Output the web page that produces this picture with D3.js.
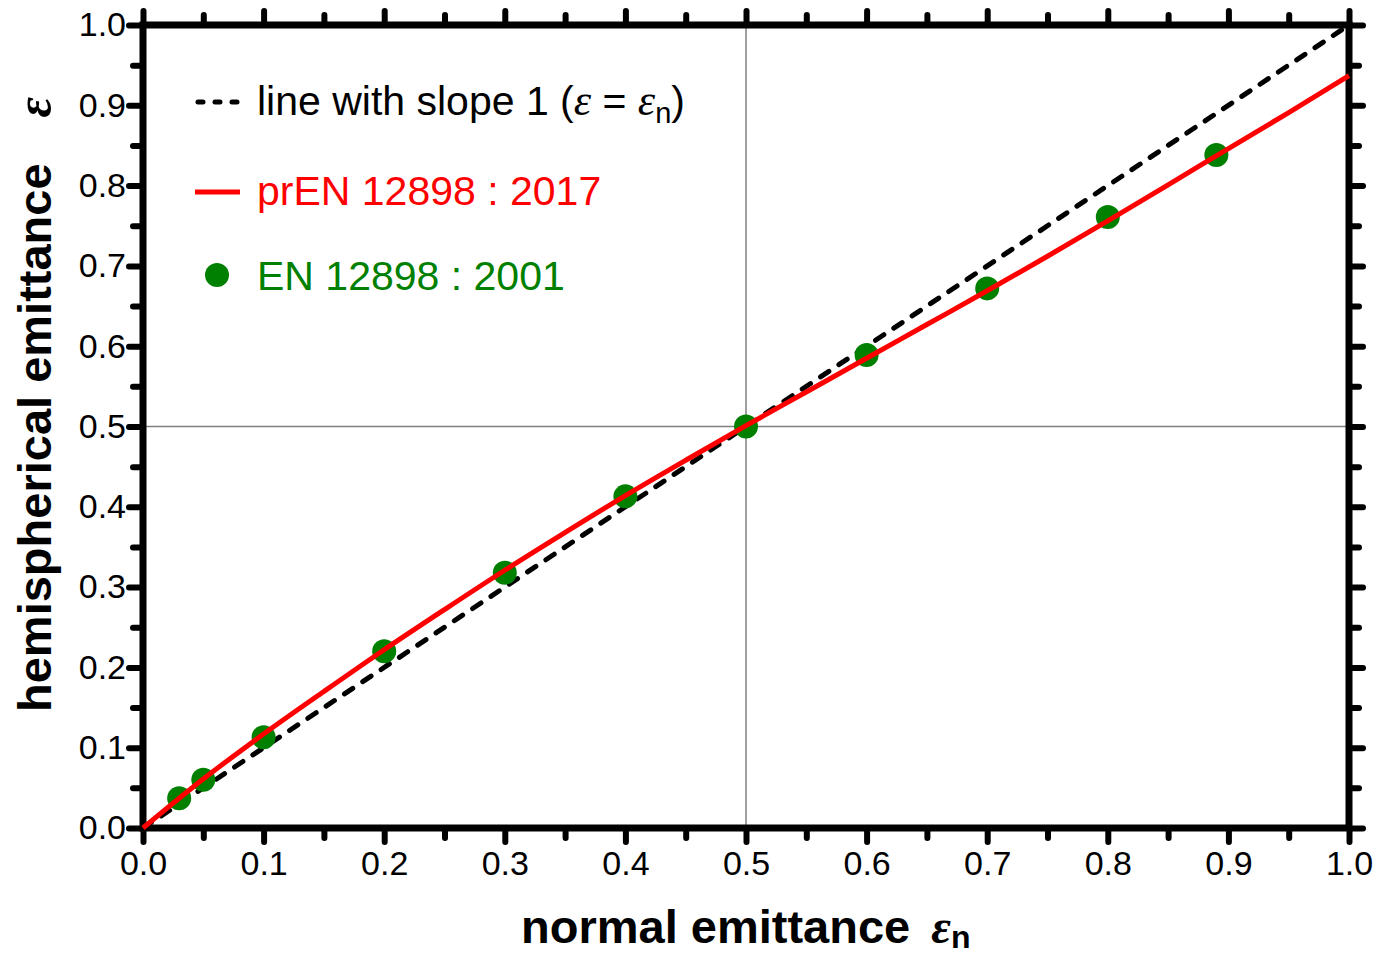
<!DOCTYPE html>
<html>
<head>
<meta charset="utf-8">
<script src="https://cdn.jsdelivr.net/npm/d3@7"></script>
<style>
  body { margin: 0; background: #fff; }
  svg { display: block; }
  .tick text { font-family: "Liberation Sans", Arial, sans-serif; }
</style>
</head>
<body>
<div id="chart"></div>
<script>
// EN 12898 : 2001 table points (normal emittance -> hemispherical emittance)
const en2001X = [0.03, 0.05, 0.1, 0.2, 0.3, 0.4, 0.5, 0.6, 0.7, 0.8, 0.89];
const en2001Y = [0.037, 0.060, 0.113, 0.220, 0.318, 0.413, 0.500, 0.589, 0.672, 0.761, 0.838];

// prEN 12898 : 2017 curve
const pren2017X = [0, 0.05, 0.1, 0.15, 0.2, 0.25, 0.3, 0.35, 0.4, 0.45, 0.5,
                   0.55, 0.6, 0.65, 0.7, 0.75, 0.8, 0.85, 0.9, 0.95, 1.0];
const pren2017Y = [0, 0.061, 0.117, 0.170, 0.222, 0.272, 0.321, 0.368, 0.414, 0.458, 0.501,
                   0.543, 0.585, 0.627, 0.669, 0.712, 0.756, 0.801, 0.846, 0.891, 0.937];

// slope 1 reference line
const slopeX = [0, 1];
const slopeY = [0, 1];

const majorTicks = [0, 0.1, 0.2, 0.3, 0.4, 0.5, 0.6, 0.7, 0.8, 0.9, 1.0];
const minorTicks = [0.05, 0.15, 0.25, 0.35, 0.45, 0.55, 0.65, 0.75, 0.85, 0.95];
const gridAt = [0.5];

const W = 1379, H = 956;
const margin = { left: 143, right: 30, top: 25, bottom: 128 };

const svg = d3.select("#chart").append("svg")
  .attr("width", W)
  .attr("height", H);

const x = d3.scaleLinear().domain([0, 1]).range([margin.left, W - margin.right]);
const y = d3.scaleLinear().domain([0, 1]).range([H - margin.bottom, margin.top]);

const fmt = d3.format(".1f");
const sans = "'Liberation Sans', Arial, Helvetica, sans-serif";
const serif = "'Liberation Serif', 'Times New Roman', serif";

// grid lines at 0.5
svg.append("g").selectAll("line.gx")
  .data(gridAt).join("line")
  .attr("x1", d => x(d)).attr("x2", d => x(d))
  .attr("y1", y(0)).attr("y2", y(1))
  .attr("stroke", "#7f7f7f").attr("stroke-width", 1.5);
svg.append("g").selectAll("line.gy")
  .data(gridAt).join("line")
  .attr("x1", x(0)).attr("x2", x(1))
  .attr("y1", d => y(d)).attr("y2", d => y(d))
  .attr("stroke", "#7f7f7f").attr("stroke-width", 1.5);

// axes: major + minor on all four sides
function styleAxis(g) {
  g.select(".domain").remove();
  g.selectAll(".tick line")
    .attr("stroke", "#000")
    .attr("stroke-width", 6)
    .attr("stroke-linecap", "round");
  g.selectAll(".tick text")
    .attr("font-size", 34)
    .attr("fill", "#000");
}

const sides = [
  { fn: d3.axisBottom, t: `translate(0,${y(0)})`, sc: x, lab: true },
  { fn: d3.axisTop, t: `translate(0,${y(1)})`, sc: x, lab: false },
  { fn: d3.axisLeft, t: `translate(${x(0)},0)`, sc: y, lab: true },
  { fn: d3.axisRight, t: `translate(${x(1)},0)`, sc: y, lab: false }
];

sides.forEach(s => {
  svg.append("g")
    .attr("transform", s.t)
    .call(s.fn(s.sc).tickValues(minorTicks).tickSize(10).tickFormat(""))
    .call(styleAxis);
  svg.append("g")
    .attr("transform", s.t)
    .call(s.fn(s.sc).tickValues(majorTicks).tickSize(14)
      .tickPadding(s.sc === x ? 9 : 3)
      .tickFormat(s.lab ? fmt : ""))
    .call(styleAxis);
});

// frame
svg.append("rect")
  .attr("x", x(0)).attr("y", y(1))
  .attr("width", x(1) - x(0)).attr("height", y(0) - y(1))
  .attr("fill", "none").attr("stroke", "#000").attr("stroke-width", 7);

// slope 1 dashed line
const line = d3.line().x(d => x(d[0])).y(d => y(d[1]));
svg.append("path")
  .datum(d3.zip(slopeX, slopeY))
  .attr("d", line)
  .attr("fill", "none")
  .attr("stroke", "#000")
  .attr("stroke-width", 5)
  .attr("stroke-linecap", "round")
  .attr("stroke-dasharray", "10,12");

// green points
svg.append("g").selectAll("circle")
  .data(d3.zip(en2001X, en2001Y)).join("circle")
  .attr("cx", d => x(d[0]))
  .attr("cy", d => y(d[1]))
  .attr("r", 12)
  .attr("fill", "#008000");

// red curve
svg.append("path")
  .datum(d3.zip(pren2017X, pren2017Y))
  .attr("d", line.curve(d3.curveMonotoneX))
  .attr("fill", "none")
  .attr("stroke", "#ff0000")
  .attr("stroke-width", 5);

// legend
const lg = svg.append("g");
lg.append("line")
  .attr("x1", 198).attr("x2", 237).attr("y1", 102).attr("y2", 102)
  .attr("stroke", "#000").attr("stroke-width", 5)
  .attr("stroke-linecap", "round").attr("stroke-dasharray", "5,12");
const t1 = lg.append("text")
  .attr("x", 257).attr("y", 115)
  .attr("font-family", sans).attr("font-size", 41).attr("fill", "#000");
t1.append("tspan").text("line with slope 1 (");
t1.append("tspan").attr("font-family", serif).attr("font-style", "italic").attr("font-size", 44).text("ε");
t1.append("tspan").text(" = ");
t1.append("tspan").attr("font-family", serif).attr("font-style", "italic").attr("font-size", 44).text("ε");
t1.append("tspan").attr("font-size", 29).attr("dy", 8).text("n");
t1.append("tspan").attr("dy", -8).text(")");

lg.append("line")
  .attr("x1", 195).attr("x2", 240).attr("y1", 192).attr("y2", 192)
  .attr("stroke", "#ff0000").attr("stroke-width", 5);
lg.append("text")
  .attr("x", 257).attr("y", 205)
  .attr("font-family", sans).attr("font-size", 41).attr("fill", "#ff0000")
  .text("prEN 12898 : 2017");

lg.append("circle")
  .attr("cx", 217).attr("cy", 275).attr("r", 12).attr("fill", "#008000");
lg.append("text")
  .attr("x", 257).attr("y", 290)
  .attr("font-family", sans).attr("font-size", 41).attr("fill", "#008000")
  .text("EN 12898 : 2001");

// x axis title
const xt = svg.append("text")
  .attr("x", 521).attr("y", 943)
  .attr("font-family", sans).attr("font-size", 47).attr("font-weight", "bold")
  .attr("fill", "#000");
xt.append("tspan").text("normal emittance ");
xt.append("tspan").attr("font-family", serif).attr("font-style", "italic")
  .attr("font-weight", "bold").attr("font-size", 48).attr("dx", 8).text("ε");
xt.append("tspan").attr("font-size", 32).attr("dy", 5).text("n");

// y axis title
const yt = svg.append("text")
  .attr("transform", `translate(51,712) rotate(-90)`)
  .attr("font-family", sans).attr("font-size", 47).attr("font-weight", "bold")
  .attr("fill", "#000");
yt.append("tspan").text("hemispherical emittance");
yt.append("tspan").attr("font-family", serif).attr("font-style", "italic")
  .attr("font-size", 50).attr("dx", 46).text("ε");
</script>
</body>
</html>
